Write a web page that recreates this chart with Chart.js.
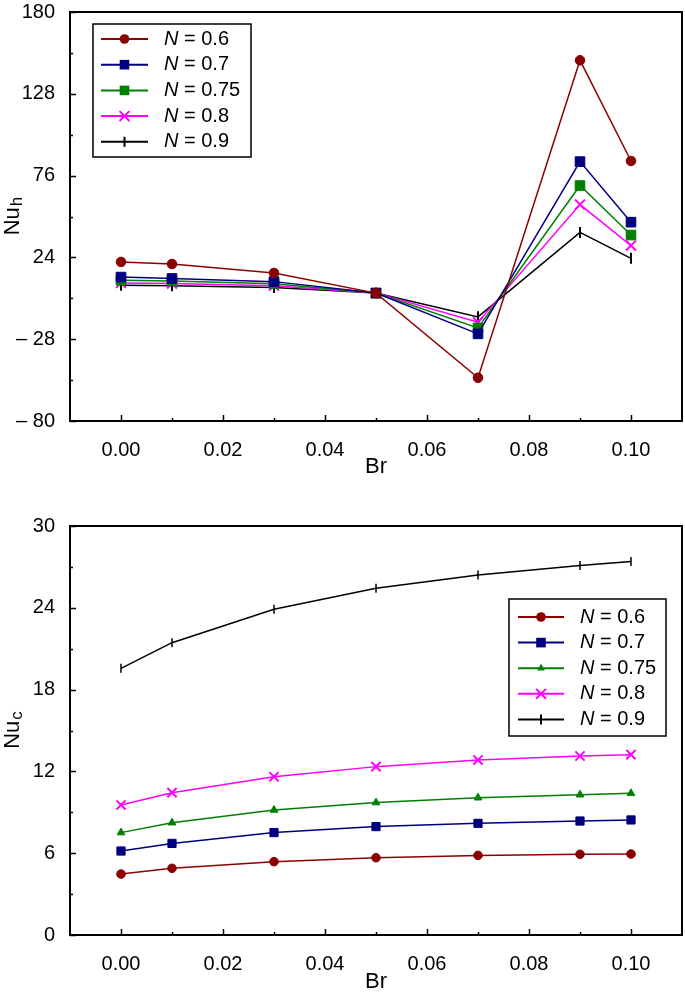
<!DOCTYPE html>
<html><head><meta charset="utf-8">
<script src="https://cdn.jsdelivr.net/npm/chart.js@4.4.1/dist/chart.umd.min.js"></script>
<style>
html,body{margin:0;padding:0;background:#fff;width:685px;height:998px;overflow:hidden;}
.wrap{position:absolute;left:0;width:685px;}
#w1{top:0;height:490px;}
#w2{top:490px;height:508px;}
canvas{display:block;}
</style></head><body>
<div class="wrap" id="w1"><canvas id="c1" width="685" height="490"></canvas></div>
<div class="wrap" id="w2"><canvas id="c2" width="685" height="508"></canvas></div>
<script>
// ---------- data ----------
const brValues = [0.00, 0.01, 0.03, 0.05, 0.07, 0.09, 0.10];
const seriesN = ['0.6', '0.7', '0.75', '0.8', '0.9'];

const nuH_N06  = [21.1, 19.8, 14.1, 1.3, -52.5, 149.3, 85.3];
const nuH_N07  = [11.5, 10.6,  8.6, 1.3, -24.6,  84.9, 46.4];
const nuH_N075 = [ 9.5,  9.0,  7.3, 1.3, -20.8,  69.7, 38.2];
const nuH_N08  = [ 7.8,  7.4,  6.0, 1.3, -17.2,  57.6, 31.5];
const nuH_N09  = [ 6.3,  5.9,  4.8, 1.3, -13.8,  39.9, 23.4];

const nuC_N06  = [ 4.47,  4.89,  5.38,  5.67,  5.84,  5.92,  5.94];
const nuC_N07  = [ 6.16,  6.72,  7.51,  7.95,  8.19,  8.36,  8.44];
const nuC_N075 = [ 7.51,  8.24,  9.17,  9.71, 10.07, 10.29, 10.39];
const nuC_N08  = [ 9.54, 10.44, 11.61, 12.35, 12.84, 13.13, 13.23];
const nuC_N09  = [19.56, 21.44, 23.90, 25.43, 26.40, 27.10, 27.40];

const xTicks = [0.00, 0.02, 0.04, 0.06, 0.08, 0.10];
const xMinorTicks = [0.01, 0.03, 0.05, 0.07, 0.09];
const yTicksH = [-80, -28, 24, 76, 128, 180];
const yMinorH = [-54, -2, 50, 102, 154];
const yTicksC = [0, 6, 12, 18, 24, 30];
const yMinorC = [3, 9, 15, 21, 27];

// ---------- styling ----------
const FONT = "'Liberation Sans', Arial, Helvetica, sans-serif";
const colors = ['#8b0000', '#00007f', '#008000', '#ff00ff', '#000000'];

function pts(vals){ return brValues.map((x,i)=>({x:x, y:vals[i]})); }

function drawMarker(ctx, style, x, y, r, color){
  ctx.save();
  ctx.fillStyle = color; ctx.strokeStyle = color; ctx.lineWidth = 2;
  ctx.beginPath();
  if (style === 'circle'){ ctx.arc(x,y,r,0,Math.PI*2); ctx.fill(); }
  else if (style === 'rect'){ const s = r*Math.SQRT1_2; ctx.rect(x-s,y-s,2*s,2*s); ctx.fill(); }
  else if (style === 'triangle'){
    const h = r*1.5, side = r*1.5*2/Math.sqrt(3);
    ctx.moveTo(x - side/2, y + h/3); ctx.lineTo(x + side/2, y + h/3); ctx.lineTo(x, y - 2*h/3); ctx.closePath(); ctx.fill();
  }
  else if (style === 'crossRot'){ const s=r*Math.SQRT1_2; ctx.moveTo(x-s,y-s); ctx.lineTo(x+s,y+s); ctx.moveTo(x-s,y+s); ctx.lineTo(x+s,y-s); ctx.stroke(); }
  else if (style === 'vline'){ ctx.moveTo(x,y-r); ctx.lineTo(x,y+r); ctx.stroke(); }
  ctx.restore();
}

const framePlugin = {
  id: 'frame',
  afterDraw(chart, args, opts){
    const ctx = chart.ctx, a = chart.chartArea;
    const xs = chart.scales.x, ys = chart.scales.y;
    ctx.save();
    ctx.strokeStyle = '#000'; ctx.lineWidth = 1.5;
    ctx.beginPath();
    xTicks.forEach(v=>{ const p = Math.round(xs.getPixelForValue(v))+0.5; ctx.moveTo(p,a.bottom); ctx.lineTo(p,a.bottom-6); });
    xMinorTicks.forEach(v=>{ const p = Math.round(xs.getPixelForValue(v))+0.5; ctx.moveTo(p,a.bottom); ctx.lineTo(p,a.bottom-3); });
    opts.yMajor.forEach(v=>{ const p = Math.round(ys.getPixelForValue(v))+0.5; ctx.moveTo(a.left,p); ctx.lineTo(a.left+6,p); });
    opts.yMinor.forEach(v=>{ const p = Math.round(ys.getPixelForValue(v))+0.5; ctx.moveTo(a.left,p); ctx.lineTo(a.left+3,p); });
    ctx.stroke();
    ctx.lineWidth = 2;
    ctx.strokeRect(a.left, a.top, a.right-a.left, a.bottom-a.top);

    // y title with subscript
    ctx.fillStyle = '#000';
    ctx.font = '22px ' + FONT;
    const w1 = ctx.measureText('Nu').width;
    ctx.font = '17px ' + FONT;
    const w2 = ctx.measureText(opts.sub).width;
    const cy = (a.top + a.bottom)/2;
    ctx.translate(19, cy);
    ctx.rotate(-Math.PI/2);
    ctx.textBaseline = 'alphabetic'; ctx.textAlign = 'left';
    ctx.font = '22px ' + FONT;
    ctx.fillText('Nu', -(w1+w2)/2, 0);
    ctx.font = '17px ' + FONT;
    ctx.fillText(opts.sub, -(w1+w2)/2 + w1 + 1, 3);
    ctx.restore();

    // legend
    const L = opts.legend;
    ctx.save();
    ctx.fillStyle = '#fff';
    ctx.fillRect(L.x, L.y, L.w, L.h);
    ctx.strokeStyle = '#000'; ctx.lineWidth = 1.5;
    ctx.strokeRect(L.x, L.y, L.w, L.h);
    chart.data.datasets.forEach((ds, i)=>{
      const y = L.y0 + i*L.dy;
      ctx.strokeStyle = ds.borderColor; ctx.lineWidth = 2;
      ctx.beginPath(); ctx.moveTo(L.lx0, y); ctx.lineTo(L.lx1, y); ctx.stroke();
      drawMarker(ctx, ds.legendMarker, (L.lx0+L.lx1)/2, y, ds.legendRadius, ds.borderColor);
      ctx.fillStyle = '#000'; ctx.textBaseline = 'middle'; ctx.textAlign = 'left';
      ctx.font = 'italic 20px ' + FONT;
      ctx.fillText('N', L.tx, y);
      const wn = ctx.measureText('N').width;
      ctx.font = '20px ' + FONT;
      ctx.fillText(' = ' + seriesN[i], L.tx + wn, y);
    });
    ctx.restore();
  }
};

function makeDatasets(arrs, styles){
  return arrs.map((vals, i)=>{
    const s = styles[i];
    return {
      label: 'N = ' + seriesN[i],
      data: pts(vals),
      borderColor: colors[i],
      backgroundColor: colors[i],
      borderWidth: 1.5,
      pointStyle: s.ps,
      pointRotation: s.rot || 0,
      pointRadius: s.r,
      pointBorderWidth: s.bw || 1,
      pointHoverRadius: s.r,
      tension: 0,
      legendMarker: s.lm,
      legendRadius: s.lr,
      clip: 8
    };
  });
}

function yLabel(v){
  if (v < 0) return '\u2013 ' + Math.abs(v);
  return String(v);
}

function zeroPad(s){ s.paddingLeft = 0; s.paddingRight = 0; s.paddingTop = 0; s.paddingBottom = 0; }

function makeOptions(yMin, yMax, yMajor, yMinor, sub, legend, padTop, xHeight, titlePadBottom){
  return {
    responsive: false,
    animation: false,
    devicePixelRatio: 1,
    layout: { autoPadding: false, padding: { top: padTop, right: 3, left: 0, bottom: 0 } },
    plugins: {
      legend: { display: false },
      tooltip: { enabled: false },
      frame: { yMajor: yMajor, yMinor: yMinor, sub: sub, legend: legend }
    },
    scales: {
      x: {
        type: 'linear', min: -0.01, max: 0.11,
        afterBuildTicks: s => { s.ticks = xTicks.map(v=>({value:v})); },
        afterFit: s => { s.height = xHeight; zeroPad(s); },
        grid: { display: false },
        border: { display: false },
        ticks: { color: '#000', font: { family: FONT, size: 20 }, padding: 9, maxRotation: 0,
                 callback: v => Number(v).toFixed(2) },
        title: { display: true, text: 'Br', color: '#000', font: { family: FONT, size: 22 },
                 padding: { top: 0, bottom: titlePadBottom } }
      },
      y: {
        type: 'linear', min: yMin, max: yMax,
        afterBuildTicks: s => { s.ticks = yMajor.map(v=>({value:v})); },
        afterFit: s => { s.width = 70; zeroPad(s); },
        grid: { display: false },
        border: { display: false },
        ticks: { color: '#000', font: { family: FONT, size: 20 }, padding: 7,
                 callback: v => yLabel(v) }
      }
    }
  };
}

const stylesH = [
  { ps: 'circle', r: 4.8, lm: 'circle', lr: 4.8 },
  { ps: 'rect', r: 6.8, lm: 'rect', lr: 6.8 },
  { ps: 'rect', r: 6.8, lm: 'rect', lr: 6.8 },
  { ps: 'crossRot', r: 7, bw: 2, lm: 'crossRot', lr: 7 },
  { ps: 'line', r: 5.5, rot: 90, bw: 2, lm: 'vline', lr: 5 }
];
const stylesC = [
  { ps: 'circle', r: 4.3, lm: 'circle', lr: 4.8 },
  { ps: 'rect', r: 5.8, lm: 'rect', lr: 6.8 },
  { ps: 'triangle', r: 4.5, lm: 'triangle', lr: 4.5 },
  { ps: 'crossRot', r: 6.5, bw: 2, lm: 'crossRot', lr: 7 },
  { ps: 'line', r: 4.5, rot: 90, bw: 1.5, lm: 'vline', lr: 5 }
];

new Chart(document.getElementById('c1'), {
  type: 'line',
  data: { datasets: makeDatasets([nuH_N06, nuH_N07, nuH_N075, nuH_N08, nuH_N09], stylesH) },
  options: makeOptions(-80, 180, yTicksH, yMinorH, 'h',
    { x: 93, y: 24, w: 158, h: 133, y0: 39, dy: 25.7, lx0: 101, lx1: 148, tx: 164 },
    12, 69, 10),
  plugins: [framePlugin]
});

new Chart(document.getElementById('c2'), {
  type: 'line',
  data: { datasets: makeDatasets([nuC_N06, nuC_N07, nuC_N075, nuC_N08, nuC_N09], stylesC) },
  options: makeOptions(0, 30, yTicksC, yMinorC, 'c',
    { x: 509, y: 109, w: 157, h: 137, y0: 127, dy: 25.6, lx0: 518, lx1: 564, tx: 580 },
    36, 63, 3),
  plugins: [framePlugin]
});
</script>
</body></html>
